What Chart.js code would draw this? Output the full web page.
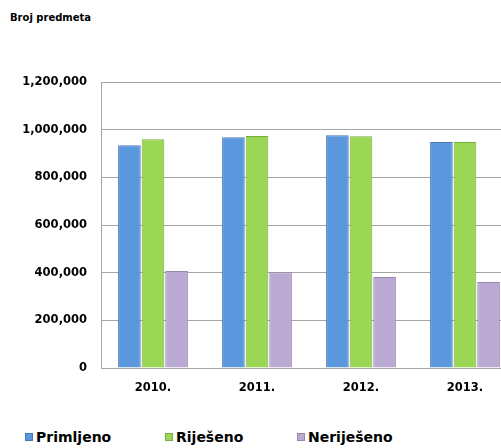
<!DOCTYPE html>
<html>
<head>
<meta charset="utf-8">
<script src="https://cdn.jsdelivr.net/npm/chart.js@4/dist/chart.umd.min.js"></script>
<style>
    html, body { margin: 0; padding: 0; background: #fff; }
    #wrap { position: relative; width: 501px; height: 448px; overflow: hidden; }
    #title { position: absolute; left: 10px; top: 12px; font: bold 10px "DejaVu Sans", sans-serif; color: #000; }
    #chartBox { position: absolute; left: 0; top: 0; width: 517px; height: 400px; }
    #legend { position: absolute; top: 429px; left: 0; width: 501px; height: 20px; }
    .item { position: absolute; font: bold 14px "DejaVu Sans", sans-serif; color: #000; white-space: nowrap; }
    .item span.box { display: inline-block; width: 8px; height: 8px; margin-right: 3px; vertical-align: 1px; }
</style>
</head>
<body>
<div id="wrap">
    <div id="title">Broj predmeta</div>
    <div id="chartBox"><canvas id="predmetiChart" width="517" height="400"></canvas></div>
    <div id="legend"></div>
</div>
<script>
// Data
const years = ['2010.', '2011.', '2012.', '2013.'];
const primljeno = [935000, 968000, 977000, 948000];
const rijeseno = [960000, 973000, 972000, 948000];
const neRijeseno = [407000, 402000, 382000, 361000];

const seriesNames = ['Primljeno', 'Riješeno', 'Neriješeno'];
const fillColors = ['#5b97dd', '#9bd655', '#baa9d3'];
const edgeColors = ['#4676b4', '#78ad3e', '#9686b0'];
const legendLeft = [25, 165, 297];

const tickFont = { family: 'DejaVu Sans', size: 11.5, weight: 'bold' };

function initializeChart() {
    const ctx = document.getElementById('predmetiChart');
    const values = [primljeno, rijeseno, neRijeseno];

    const chart = new Chart(ctx, {
        type: 'bar',
        data: {
            labels: years,
            datasets: seriesNames.map((name, i) => ({
                label: name,
                data: values[i],
                backgroundColor: fillColors[i],
                borderColor: edgeColors[i],
                borderWidth: 1,
                barPercentage: 0.96,
                categoryPercentage: 0.68
            }))
        },
        options: {
            responsive: false,
            animation: false,
            layout: { padding: { top: 82, left: 0, right: 0, bottom: 0 } },
            plugins: {
                legend: { display: false },
                title: { display: false },
                tooltip: { enabled: false }
            },
            scales: {
                x: {
                    grid: { display: false, drawTicks: false },
                    border: { color: '#a6a6a6', width: 1 },
                    ticks: { color: '#000', font: tickFont, padding: 13 },
                    afterFit: function (scale) { scale.height = 32; }
                },
                y: {
                    min: 0,
                    max: 1200000,
                    grid: { color: '#a6a6a6', lineWidth: 1, drawTicks: false },
                    border: { color: '#a6a6a6', width: 1 },
                    ticks: {
                        stepSize: 200000,
                        color: '#000',
                        font: tickFont,
                        padding: 14,
                        callback: v => v.toLocaleString('en-US')
                    },
                    afterFit: function (scale) { scale.width = 101; }
                }
            }
        }
    });

    // legend as real text, built from the series arrays
    const legend = document.getElementById('legend');
    seriesNames.forEach((name, i) => {
        const item = document.createElement('div');
        item.className = 'item';
        item.style.left = legendLeft[i] + 'px';
        const box = document.createElement('span');
        box.className = 'box';
        box.style.background = fillColors[i];
        box.style.border = '1px solid ' + edgeColors[i];
        box.style.boxSizing = 'border-box';
        item.appendChild(box);
        item.appendChild(document.createTextNode(name));
        legend.appendChild(item);
    });
    return chart;
}

initializeChart();
</script>
</body>
</html>
